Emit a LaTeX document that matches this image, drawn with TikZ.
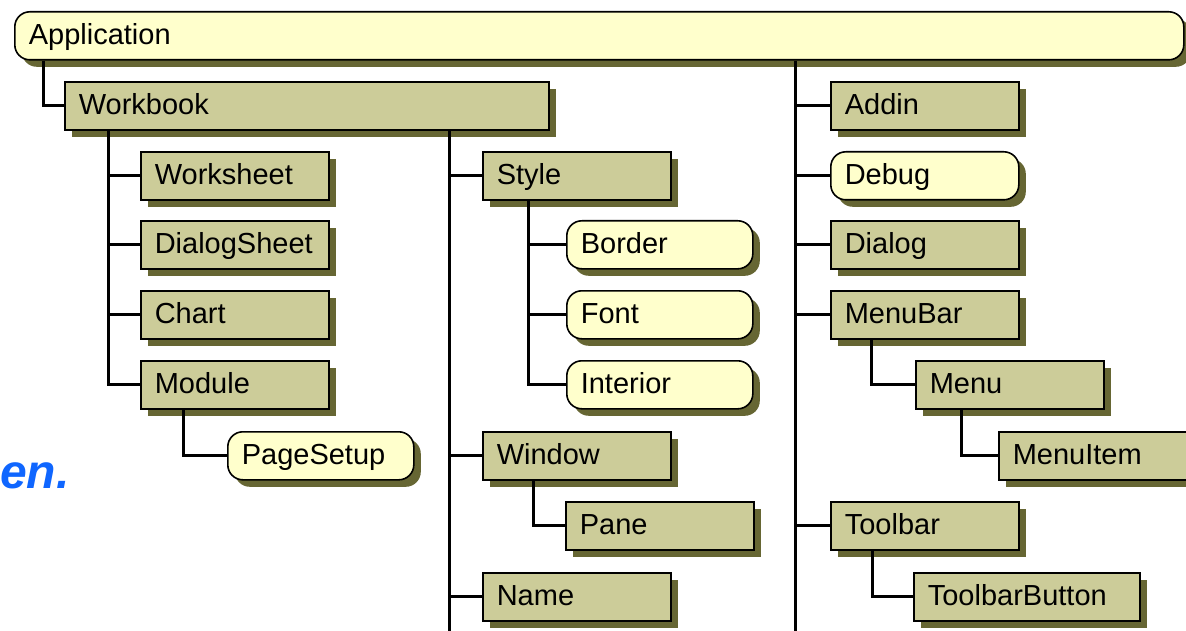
\documentclass[tikz,border=0pt]{standalone}
\usepackage{fontspec}
\setmainfont{Liberation Sans}
\usetikzlibrary{shadows}
\definecolor{boxc}{HTML}{CCCC99}
\definecolor{roundc}{HTML}{FFFFCC}
\definecolor{shadc}{HTML}{666633}
\definecolor{bluec}{HTML}{0F66FF}
\tikzset{
  obj/.style={draw=black, line width=1.6pt, fill=boxc, anchor=north west,
    minimum height=48pt, text width=160pt, align=left, inner xsep=14pt,
    inner ysep=0pt, text height=17pt, text depth=0pt,
    font=\fontsize{29}{29}\selectfont,
    general shadow={fill=shadc, shadow xshift=7pt, shadow yshift=-7pt}},
  coll/.style={obj, fill=roundc, rounded corners=15pt},
  link/.style={line width=3pt, draw=black}
}
\begin{document}
\begin{tikzpicture}[x=1pt,y=-1pt]
\useasboundingbox (0,0) rectangle (1186,631);
\clip (0,0) rectangle (1186,631);
\fill[white] (0,0) rectangle (1186,631);

% trunk x positions
\coordinate (xA) at (43,0);
\coordinate (xB) at (108,0);
\coordinate (xC) at (183,0);
\coordinate (xD) at (449,0);
\coordinate (xE) at (528,0);
\coordinate (xF) at (533,0);
\coordinate (xG) at (795,0);
\coordinate (xH) at (871,0);
\coordinate (xI) at (961,0);
\coordinate (xJ) at (872,0);
\coordinate (bot) at (0,645);

% nodes
\node[coll, text width=1141pt] (app) at (14,11) {Application};
\node[obj, text width=456pt] (wb) at (64,81) {Workbook};

\node[obj] (ws) at (140,151) {Worksheet};
\node[obj] (ds) at (140,220) {DialogSheet};
\node[obj] (ch) at (140,290) {Chart};
\node[obj] (mod) at (140,360) {Module};
\node[coll, text width=158pt] (ps) at (227,431) {PageSetup};

\node[obj] (sty) at (482,151) {Style};
\node[coll, text width=158pt] (bor) at (566,220) {Border};
\node[coll, text width=158pt] (fnt) at (566,290) {Font};
\node[coll, text width=158pt] (intr) at (566,360) {Interior};
\node[obj] (win) at (482,431) {Window};
\node[obj] (pane) at (565,501) {Pane};
\node[obj] (name) at (482,572) {Name};

\node[obj] (addin) at (830,81) {Addin};
\node[coll] (debug) at (830,151) {Debug};
\node[obj] (dialog) at (830,220) {Dialog};
\node[obj] (menubar) at (830,290) {MenuBar};
\node[obj] (menu) at (915,360) {Menu};
\node[obj, text width=190pt] (menuitem) at (998,431) {MenuItem};
\node[obj] (toolbar) at (830,501) {Toolbar};
\node[obj, text width=198pt] (tbb) at (913,572) {ToolbarButton};

% connectors
\draw[link] (app.south -| xA) |- (wb.west);
\draw[link] (wb.south -| xB) |- (mod.west);
\foreach \c in {ws,ds,ch}{\draw[link] (xB |- \c.west) -- (\c.west);}
\draw[link] (mod.south -| xC) |- (ps.west);
\draw[link] (wb.south -| xD) -- (xD |- bot);
\foreach \c in {sty,win,name}{\draw[link] (xD |- \c.west) -- (\c.west);}
\draw[link] (sty.south -| xE) |- (intr.west);
\foreach \c in {bor,fnt}{\draw[link] (xE |- \c.west) -- (\c.west);}
\draw[link] (win.south -| xF) |- (pane.west);
\draw[link] (app.south -| xG) -- (xG |- bot);
\foreach \c in {addin,debug,dialog,menubar,toolbar}{\draw[link] (xG |- \c.west) -- (\c.west);}
\draw[link] (menubar.south -| xH) |- (menu.west);
\draw[link] (menu.south -| xI) |- (menuitem.west);
\draw[link] (toolbar.south -| xJ) |- (tbb.west);

\node[anchor=base west, inner sep=0pt, text=bluec,
  font=\fontsize{48}{48}\selectfont\bfseries\itshape] (en) at (0,488) {en.};
\end{tikzpicture}
\end{document}
